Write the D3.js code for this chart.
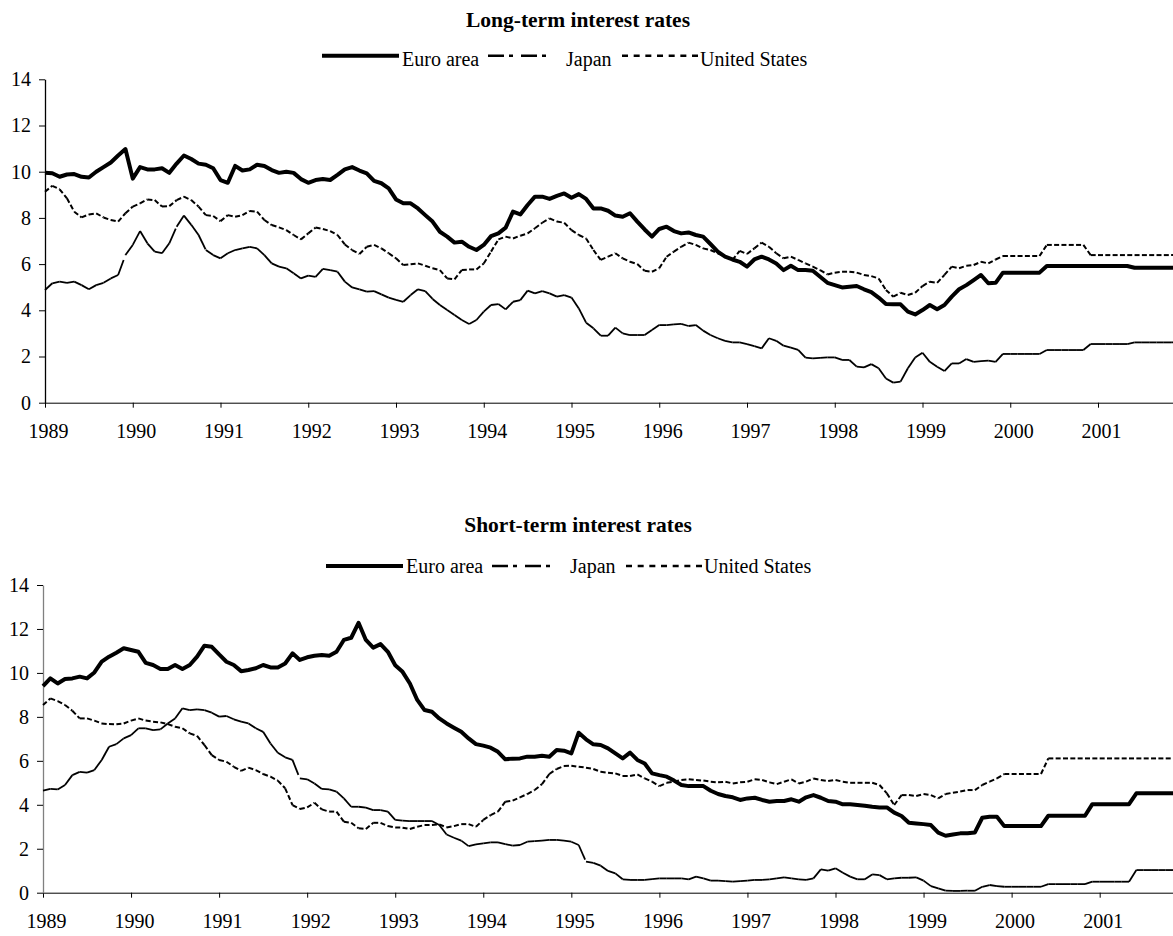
<!DOCTYPE html>
<html>
<head>
<meta charset="utf-8">
<script src="https://cdnjs.cloudflare.com/ajax/libs/d3/7.8.5/d3.min.js"></script>
<style>
    body { margin: 0; background: #fff; }
    svg text { font-family: "Times New Roman", "Liberation Serif", serif; fill: #000; }
</style>
</head>
<body>
<div id="graph"></div>
<script>
'use strict';

// monthly data, Jan 1989 - Dec 2001 (156 months)
const years = [1989, 1990, 1991, 1992, 1993, 1994, 1995, 1996, 1997, 1998, 1999, 2000, 2001];
const yTicks = [0, 2, 4, 6, 8, 10, 12, 14];
const seriesNames = ['Euro area', 'Japan', 'United States'];

const euroLong = [
    9.95, 9.93, 9.78, 9.88, 9.90, 9.78, 9.75, 10.00, 10.20, 10.40, 10.70, 10.98,
    9.70, 10.20, 10.10, 10.10, 10.15, 9.95, 10.35, 10.70, 10.55, 10.35, 10.30, 10.15,
    9.64, 9.52, 10.25, 10.05, 10.10, 10.30, 10.25, 10.07, 9.95, 10.00, 9.95, 9.68,
    9.52, 9.64, 9.68, 9.64, 9.86, 10.10, 10.20, 10.05, 9.93, 9.60, 9.50, 9.28,
    8.80, 8.63, 8.63, 8.41, 8.12, 7.84, 7.40, 7.19, 6.93, 6.97, 6.75, 6.61,
    6.83, 7.21, 7.33, 7.58, 8.27, 8.15, 8.56, 8.92, 8.92, 8.82, 8.95, 9.06,
    8.87, 9.03, 8.82, 8.41, 8.41, 8.31, 8.10, 8.05, 8.20, 7.84, 7.50, 7.19,
    7.52, 7.62, 7.43, 7.33, 7.37, 7.26, 7.19, 6.87, 6.54, 6.32, 6.20, 6.10,
    5.89, 6.20, 6.32, 6.20, 6.03, 5.74, 5.93, 5.74, 5.74, 5.71, 5.45, 5.19,
    5.09, 4.99, 5.02, 5.05, 4.91, 4.79, 4.55, 4.27, 4.26, 4.26, 3.94, 3.82,
    4.01, 4.23, 4.05, 4.23, 4.59, 4.91, 5.09, 5.31, 5.53, 5.17, 5.19, 5.63,
    5.63, 5.63, 5.63, 5.63, 5.63, 5.92, 5.92, 5.92, 5.92, 5.92, 5.92, 5.92,
    5.92, 5.92, 5.92, 5.92, 5.92, 5.84, 5.84, 5.84, 5.84, 5.84, 5.84, 5.84
];
const japanLong = [
    4.88, 5.17, 5.24, 5.19, 5.24, 5.09, 4.91, 5.09, 5.19, 5.38, 5.53, 6.39,
    6.83, 7.43, 6.90, 6.54, 6.47, 6.90, 7.62, 8.10, 7.70, 7.26, 6.61, 6.39,
    6.25, 6.47, 6.61, 6.68, 6.75, 6.68, 6.39, 6.03, 5.89, 5.82, 5.60, 5.38,
    5.50, 5.45, 5.79, 5.74, 5.67, 5.24, 4.99, 4.91, 4.81, 4.83, 4.69, 4.55,
    4.45, 4.37, 4.66, 4.91, 4.83, 4.49, 4.23, 4.01, 3.80, 3.58, 3.41, 3.58,
    3.94, 4.23, 4.27, 4.04, 4.37, 4.44, 4.85, 4.73, 4.83, 4.73, 4.59, 4.66,
    4.55, 4.08, 3.46, 3.22, 2.90, 2.90, 3.25, 3.00, 2.93, 2.93, 2.93, 3.15,
    3.36, 3.36, 3.39, 3.41, 3.32, 3.36, 3.12, 2.93, 2.79, 2.68, 2.61, 2.61,
    2.54, 2.45, 2.35, 2.79, 2.68, 2.47, 2.38, 2.29, 1.95, 1.92, 1.94, 1.96,
    1.96, 1.85, 1.85, 1.56, 1.53, 1.67, 1.49, 1.05, 0.87, 0.91, 1.49, 1.96,
    2.16, 1.77, 1.56, 1.37, 1.70, 1.70, 1.89, 1.77, 1.80, 1.82, 1.77, 2.11,
    2.11, 2.11, 2.11, 2.11, 2.11, 2.28, 2.28, 2.28, 2.28, 2.28, 2.28, 2.54,
    2.54, 2.54, 2.54, 2.54, 2.54, 2.61, 2.61, 2.61, 2.61, 2.61, 2.61, 2.61
];
const usLong = [
    9.13, 9.39, 9.24, 8.85, 8.27, 8.02, 8.15, 8.20, 8.02, 7.91, 7.84, 8.20,
    8.49, 8.63, 8.80, 8.77, 8.49, 8.51, 8.77, 8.92, 8.77, 8.49, 8.12, 8.08,
    7.86, 8.12, 8.05, 8.12, 8.30, 8.27, 7.91, 7.69, 7.59, 7.47, 7.26, 7.07,
    7.33, 7.58, 7.52, 7.43, 7.26, 6.85, 6.61, 6.44, 6.75, 6.83, 6.68, 6.47,
    6.25, 5.96, 5.99, 6.03, 5.93, 5.82, 5.74, 5.38, 5.34, 5.74, 5.77, 5.77,
    6.03, 6.54, 7.07, 7.19, 7.11, 7.23, 7.33, 7.55, 7.79, 7.98, 7.84, 7.79,
    7.47, 7.26, 7.11, 6.61, 6.18, 6.32, 6.47, 6.25, 6.10, 6.00, 5.71, 5.67,
    5.82, 6.32, 6.54, 6.75, 6.93, 6.83, 6.68, 6.61, 6.47, 6.32, 6.18, 6.57,
    6.44, 6.68, 6.93, 6.75, 6.47, 6.25, 6.32, 6.18, 6.03, 5.89, 5.74, 5.55,
    5.63, 5.67, 5.67, 5.63, 5.53, 5.48, 5.38, 4.88, 4.59, 4.76, 4.66, 4.76,
    5.05, 5.24, 5.19, 5.53, 5.89, 5.82, 5.93, 5.96, 6.10, 6.03, 6.20, 6.35,
    6.35, 6.35, 6.35, 6.35, 6.35, 6.83, 6.83, 6.83, 6.83, 6.83, 6.83, 6.39,
    6.39, 6.39, 6.39, 6.39, 6.39, 6.39, 6.39, 6.39, 6.39, 6.39, 6.39, 6.39
];

const euroShort = [
    9.40, 9.75, 9.52, 9.72, 9.75, 9.83, 9.75, 10.02, 10.51, 10.74, 10.92, 11.12,
    11.04, 10.96, 10.46, 10.36, 10.18, 10.18, 10.36, 10.18, 10.36, 10.74, 11.24, 11.19,
    10.84, 10.51, 10.36, 10.08, 10.13, 10.21, 10.36, 10.25, 10.25, 10.43, 10.89, 10.59,
    10.71, 10.78, 10.81, 10.78, 10.96, 11.50, 11.60, 12.28, 11.50, 11.15, 11.31, 10.96,
    10.35, 10.05, 9.52, 8.77, 8.31, 8.23, 7.93, 7.70, 7.51, 7.32, 7.02, 6.76,
    6.69, 6.60, 6.41, 6.07, 6.10, 6.11, 6.19, 6.19, 6.23, 6.19, 6.49, 6.46,
    6.34, 7.28, 6.98, 6.75, 6.72, 6.57, 6.34, 6.11, 6.37, 6.04, 5.88, 5.43,
    5.35, 5.28, 5.10, 4.90, 4.85, 4.85, 4.85, 4.64, 4.49, 4.40, 4.34, 4.22,
    4.29, 4.32, 4.22, 4.14, 4.17, 4.17, 4.25, 4.14, 4.34, 4.44, 4.32, 4.17,
    4.14, 4.02, 4.02, 3.99, 3.96, 3.91, 3.88, 3.88, 3.64, 3.49, 3.18, 3.15,
    3.12, 3.08, 2.73, 2.59, 2.65, 2.70, 2.70, 2.74, 3.41, 3.46, 3.46, 3.03,
    3.03, 3.03, 3.03, 3.03, 3.03, 3.50, 3.50, 3.50, 3.50, 3.50, 3.50, 4.03,
    4.03, 4.03, 4.03, 4.03, 4.03, 4.52, 4.52, 4.52, 4.52, 4.52, 4.52, 4.52
];
const japanShort = [
    4.64, 4.72, 4.70, 4.90, 5.35, 5.50, 5.46, 5.58, 6.04, 6.64, 6.76, 7.02,
    7.17, 7.48, 7.48, 7.40, 7.43, 7.70, 7.93, 8.39, 8.31, 8.34, 8.31, 8.19,
    8.01, 8.04, 7.89, 7.78, 7.70, 7.48, 7.32, 6.79, 6.37, 6.16, 6.04, 5.20,
    5.16, 4.97, 4.72, 4.70, 4.60, 4.29, 3.91, 3.91, 3.87, 3.76, 3.76, 3.69,
    3.31, 3.28, 3.26, 3.26, 3.26, 3.26, 3.08, 2.65, 2.50, 2.37, 2.12, 2.20,
    2.24, 2.29, 2.29, 2.21, 2.14, 2.17, 2.32, 2.35, 2.37, 2.40, 2.40, 2.37,
    2.32, 2.17, 1.41, 1.36, 1.23, 0.99, 0.88, 0.61, 0.58, 0.58, 0.58, 0.62,
    0.65, 0.65, 0.65, 0.65, 0.61, 0.73, 0.65, 0.55, 0.55, 0.53, 0.50, 0.53,
    0.55, 0.58, 0.58, 0.61, 0.65, 0.70, 0.65, 0.61, 0.58, 0.65, 1.06, 1.00,
    1.11, 0.91, 0.73, 0.61, 0.61, 0.83, 0.80, 0.61, 0.65, 0.68, 0.68, 0.70,
    0.55, 0.30, 0.20, 0.09, 0.08, 0.08, 0.09, 0.09, 0.27, 0.35, 0.30, 0.27,
    0.27, 0.27, 0.27, 0.27, 0.27, 0.39, 0.39, 0.39, 0.39, 0.39, 0.39, 0.50,
    0.50, 0.50, 0.50, 0.50, 0.50, 1.03, 1.03, 1.03, 1.03, 1.03, 1.03, 1.03
];
const usShort = [
    8.54, 8.84, 8.72, 8.54, 8.28, 7.93, 7.93, 7.83, 7.70, 7.67, 7.66, 7.70,
    7.83, 7.93, 7.83, 7.78, 7.75, 7.67, 7.55, 7.48, 7.25, 7.13, 6.72, 6.26,
    6.04, 5.96, 5.73, 5.54, 5.69, 5.58, 5.40, 5.28, 5.10, 4.75, 3.99, 3.81,
    3.88, 4.09, 3.79, 3.69, 3.69, 3.23, 3.18, 2.93, 2.90, 3.18, 3.18, 3.03,
    2.97, 2.96, 2.90, 3.00, 3.08, 3.08, 3.11, 2.97, 3.03, 3.12, 3.12, 3.00,
    3.31, 3.53, 3.69, 4.14, 4.19, 4.34, 4.49, 4.67, 4.94, 5.40, 5.63, 5.76,
    5.78, 5.73, 5.69, 5.63, 5.50, 5.46, 5.43, 5.31, 5.31, 5.38, 5.20, 5.05,
    4.85, 5.00, 5.05, 5.13, 5.16, 5.13, 5.10, 5.05, 5.02, 5.05, 4.97, 5.02,
    5.05, 5.16, 5.13, 5.02, 4.94, 5.05, 5.16, 4.97, 5.05, 5.20, 5.13, 5.08,
    5.13, 5.05, 5.00, 5.00, 5.00, 5.00, 4.90, 4.52, 3.99, 4.44, 4.44, 4.40,
    4.49, 4.44, 4.29, 4.49, 4.55, 4.60, 4.67, 4.67, 4.90, 5.05, 5.20, 5.40,
    5.40, 5.40, 5.40, 5.40, 5.40, 6.11, 6.11, 6.11, 6.11, 6.11, 6.11, 6.11,
    6.11, 6.11, 6.11, 6.11, 6.11, 6.11, 6.11, 6.11, 6.11, 6.11, 6.11, 6.11
];

const measurements = { width: 1173, height: 936 };
const fontFamily = '"Times New Roman", "Liberation Serif", serif';

// layout of the two panels
const panels = [
    { title: 'Long-term interest rates', data: [euroLong, japanLong, usLong],
      x0: 45, monthWidth: 7.3125, yTop: 79.3, yBottom: 402.7, yAxisColor: '#000',
      titleY: 26.7, legendX: 322, legendLineY: 55.7, legendTextY: 66 },
    { title: 'Short-term interest rates', data: [euroShort, japanShort, usShort],
      x0: 43, monthWidth: 7.338, yTop: 585, yBottom: 892.7, yAxisColor: '#808080',
      titleY: 531.7, legendX: 326, legendLineY: 566, legendTextY: 573.3 }
];

// line styles: thick solid, long dash-dot, short dash
const styles = [
    { width: 4, dash: null, keyDash: null, keyFrom: 0, keyTo: 77, textAt: 80 },
    { width: 1.8, dash: '16,5,4,6', keyDash: '16,5,4,8', keyFrom: 166, keyTo: 226, textAt: 244 },
    { width: 2, dash: '5,2.5', keyDash: '6,5.67', keyFrom: 300, keyTo: 376, textAt: 378 }
];

let svg = d3.select('#graph')
    .append('svg')
    .attr('width', measurements.width)
    .attr('height', measurements.height);

panels.forEach(drawPanel);

function drawPanel(p) {
    let n = p.data[0].length;
    let x = d3.scaleLinear().domain([0, n]).range([p.x0, p.x0 + n * p.monthWidth]);
    let y = d3.scaleLinear().domain([0, 14]).range([p.yBottom, p.yTop]);

    // title
    svg.append('text')
        .attr('x', 578)
        .attr('y', p.titleY)
        .attr('text-anchor', 'middle')
        .attr('font-family', fontFamily)
        .style('font-size', '21.5px')
        .style('font-weight', 'bold')
        .text(p.title);

    // axes
    let xAxis = d3.axisBottom(x)
        .tickValues(years.map((d, i) => i * 12))
        .tickFormat((d, i) => years[i])
        .tickSize(5)
        .tickSizeOuter(0);
    let gx = svg.append('g')
        .attr('transform', 'translate(0,' + p.yBottom + ')')
        .call(xAxis)
        .attr('font-family', fontFamily)
        .attr('font-size', 20);
    gx.selectAll('text')
        .attr('y', 35.3)
        .attr('dy', null)
        .attr('dx', 3)
        .style('font-family', fontFamily);

    let yAxis = d3.axisLeft(y)
        .tickValues(yTicks)
        .tickSize(6)
        .tickPadding(8)
        .tickSizeOuter(0);
    let gy = svg.append('g')
        .attr('transform', 'translate(' + p.x0 + ',0)')
        .call(yAxis)
        .attr('font-family', fontFamily)
        .attr('font-size', 20);
    gy.selectAll('text').style('font-family', fontFamily);
    gy.select('.domain').attr('stroke', p.yAxisColor).attr('stroke-width', 1.3);

    // series
    let line = d3.line().x(d => x(d[0])).y(d => y(d[1]));
    p.data.forEach((values, k) => {
        let st = styles[k];
        let pts = values.map((v, i) => [i, v]);
        if (st.dash === null) {
            svg.append('path')
                .datum(pts)
                .attr('d', line)
                .attr('fill', 'none')
                .attr('stroke', '#000')
                .attr('stroke-width', st.width)
                .attr('stroke-linejoin', 'round');
        } else {
            // dash pattern restarts on every segment, as in the original
            svg.append('g').selectAll('path')
                .data(d3.pairs(pts))
                .join('path')
                .attr('d', line)
                .attr('fill', 'none')
                .attr('stroke', '#000')
                .attr('stroke-width', st.width)
                .attr('stroke-dasharray', st.dash);
        }
    });

    // legend
    let lg = svg.append('g').attr('transform', 'translate(' + p.legendX + ',0)');
    seriesNames.forEach((name, k) => {
        let st = styles[k];
        lg.append('line')
            .attr('x1', st.keyFrom)
            .attr('x2', st.keyTo)
            .attr('y1', p.legendLineY)
            .attr('y2', p.legendLineY)
            .attr('stroke', '#000')
            .attr('stroke-width', k === 0 ? 4 : 2.5)
            .attr('stroke-dasharray', st.keyDash);
        lg.append('text')
            .attr('x', st.textAt)
            .attr('y', p.legendTextY)
            .attr('font-family', fontFamily)
            .style('font-size', '20px')
            .text(name);
    });
}
</script>
</body>
</html>
